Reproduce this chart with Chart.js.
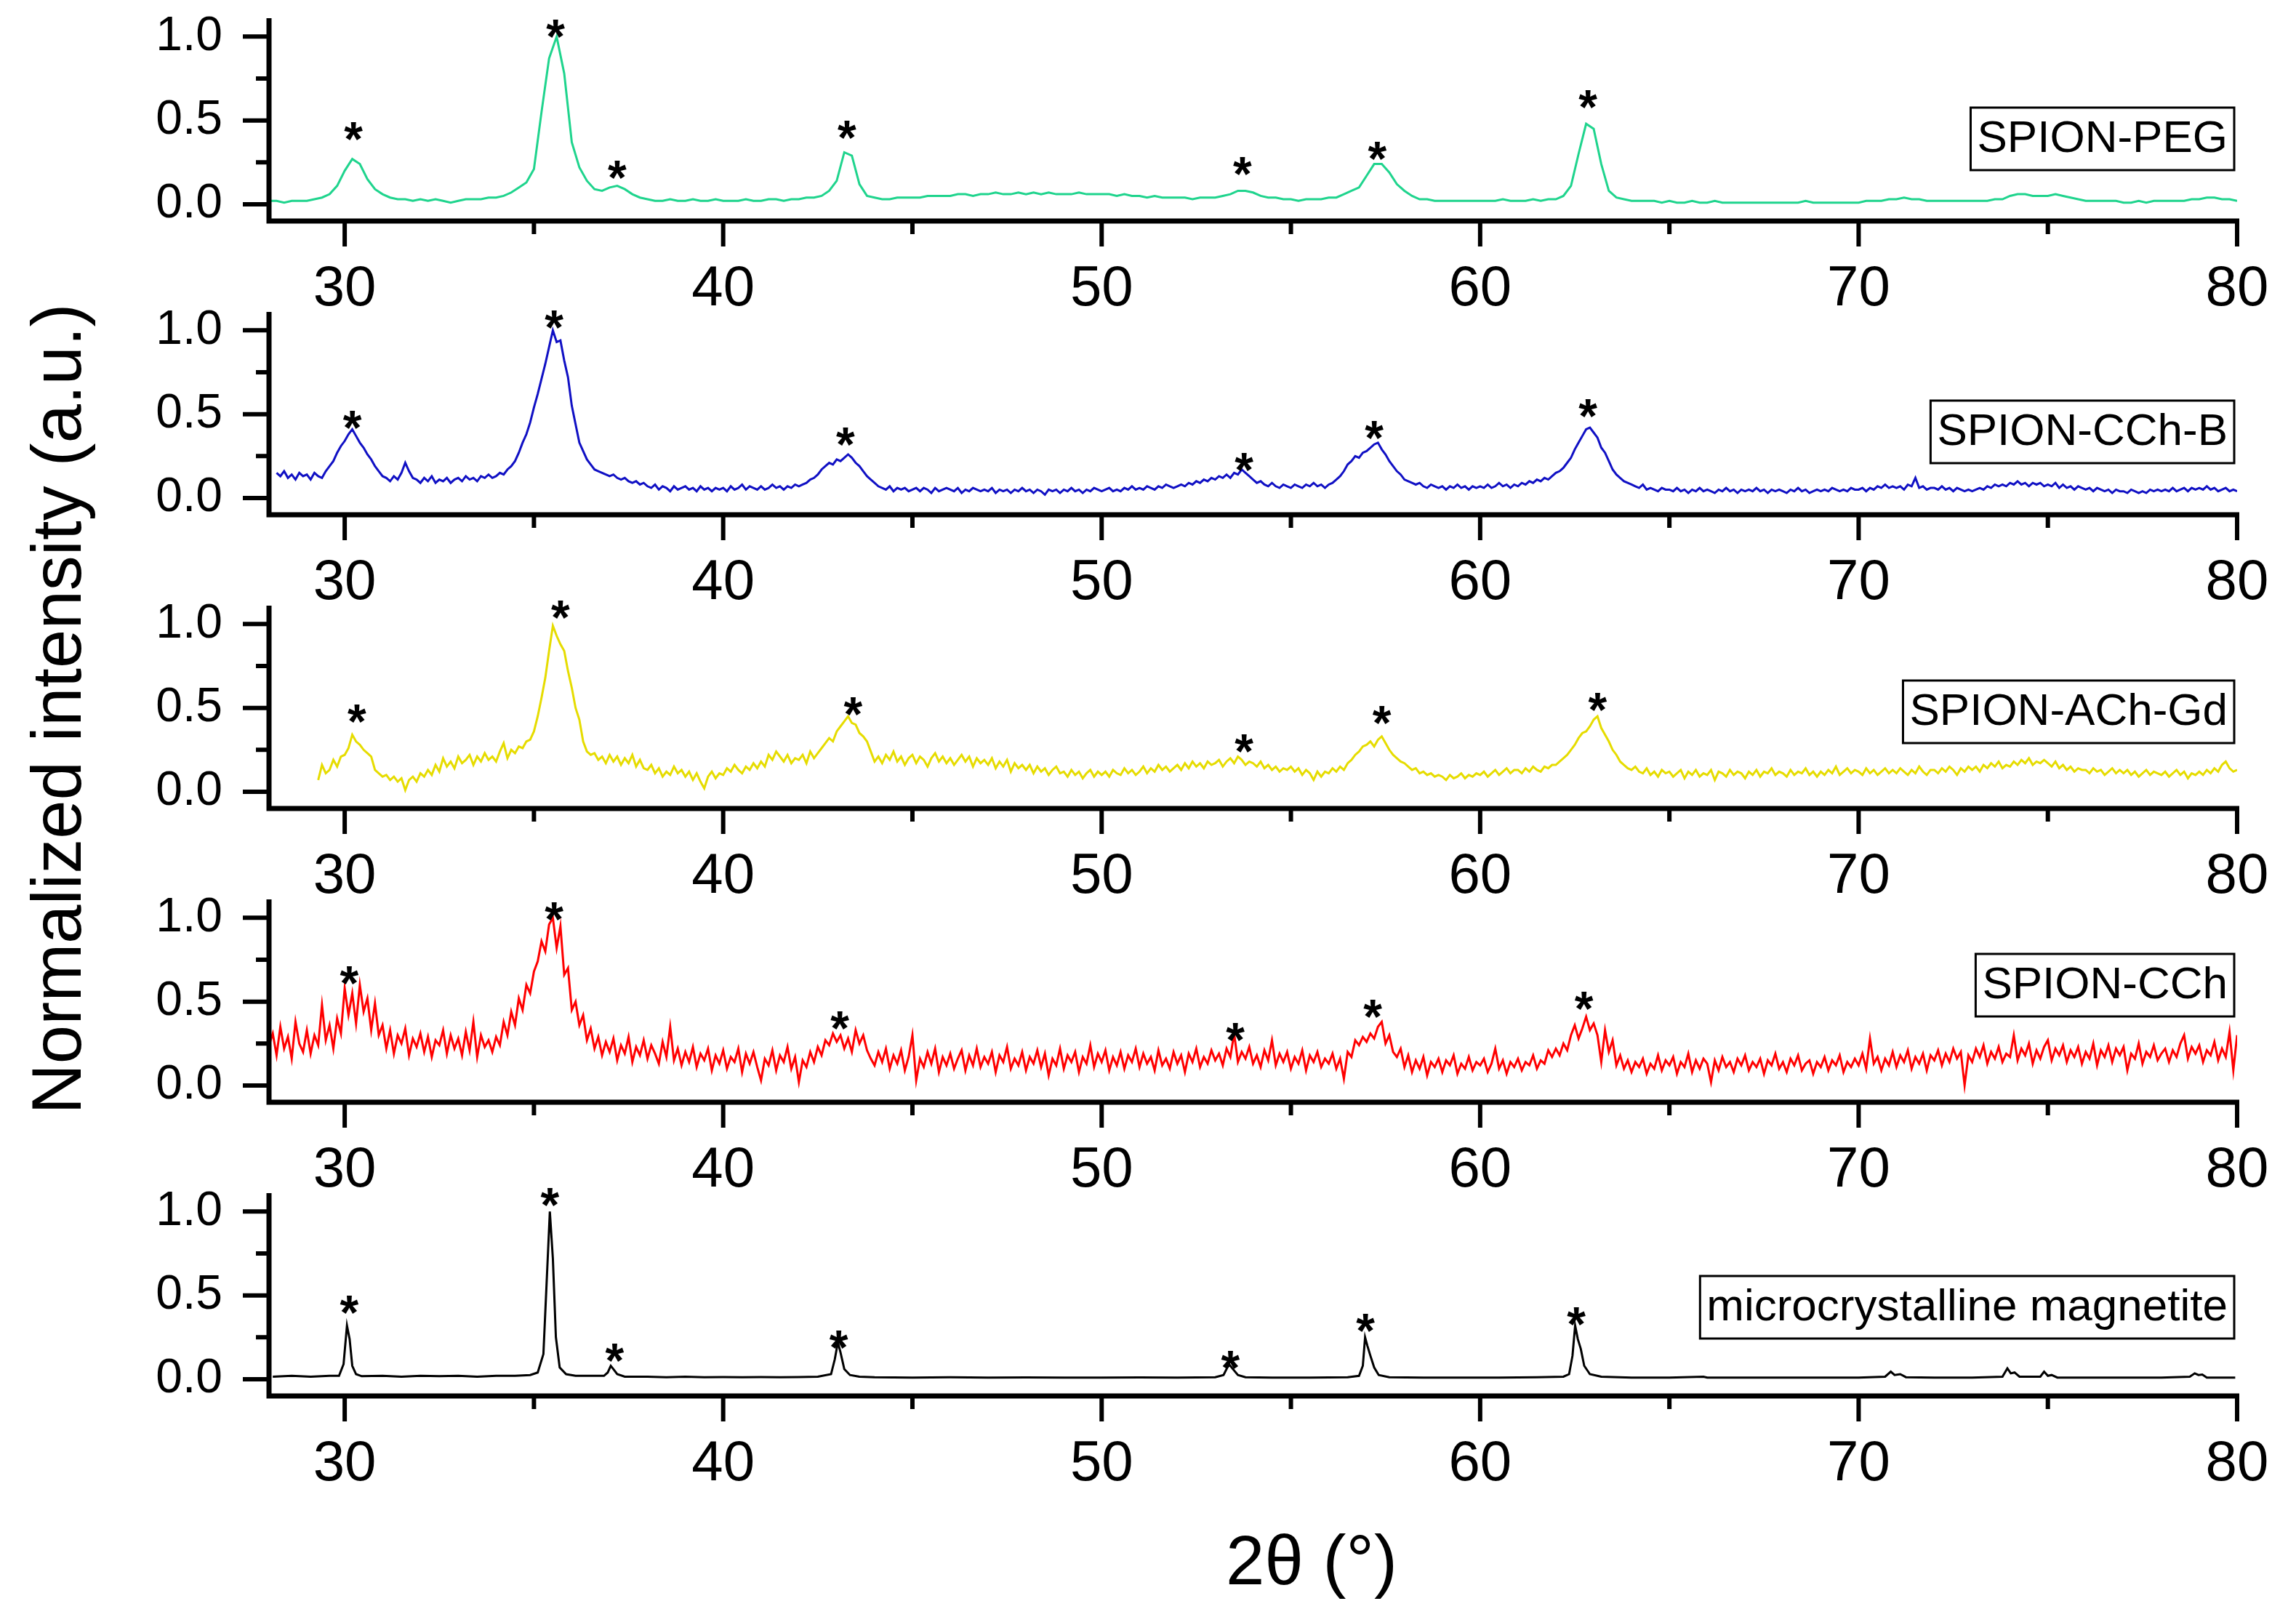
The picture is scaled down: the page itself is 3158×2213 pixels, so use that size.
<!DOCTYPE html>
<html>
<head>
<meta charset="utf-8">
<script src="https://cdn.jsdelivr.net/npm/chart.js@4.4.0/dist/chart.umd.min.js"></script>
<style>
body{margin:0;background:#fff;width:3158px;height:2213px;position:relative;overflow:hidden;font-family:"Liberation Sans",Arial,sans-serif;color:#000}
canvas{position:absolute;left:0}
#ytitle{position:absolute;left:78px;top:975px;transform:translate(-50%,-50%) rotate(-90deg);font-size:96px;white-space:nowrap}
#xtitle{position:absolute;left:1804px;top:2146px;transform:translate(-50%,-50%);font-size:96px;white-space:nowrap}
</style>
</head>
<body>
<div id="ytitle">Normalized intensity (a.u.)</div>
<div id="xtitle">2θ (°)</div>
<script>
// 2theta grid (0.2 deg) for the smooth PEG scan
var angles = [
28,28.2,28.4,28.6,28.8, 29,29.2,29.4,29.6,29.8, 30,30.2,30.4,30.6,30.8, 31,31.2,31.4,31.6,31.8,
32,32.2,32.4,32.6,32.8, 33,33.2,33.4,33.6,33.8, 34,34.2,34.4,34.6,34.8, 35,35.2,35.4,35.6,35.8,
36,36.2,36.4,36.6,36.8, 37,37.2,37.4,37.6,37.8, 38,38.2,38.4,38.6,38.8, 39,39.2,39.4,39.6,39.8,
40,40.2,40.4,40.6,40.8, 41,41.2,41.4,41.6,41.8, 42,42.2,42.4,42.6,42.8, 43,43.2,43.4,43.6,43.8,
44,44.2,44.4,44.6,44.8, 45,45.2,45.4,45.6,45.8, 46,46.2,46.4,46.6,46.8, 47,47.2,47.4,47.6,47.8,
48,48.2,48.4,48.6,48.8, 49,49.2,49.4,49.6,49.8, 50,50.2,50.4,50.6,50.8, 51,51.2,51.4,51.6,51.8,
52,52.2,52.4,52.6,52.8, 53,53.2,53.4,53.6,53.8, 54,54.2,54.4,54.6,54.8, 55,55.2,55.4,55.6,55.8,
56,56.2,56.4,56.6,56.8, 57,57.2,57.4,57.6,57.8, 58,58.2,58.4,58.6,58.8, 59,59.2,59.4,59.6,59.8,
60,60.2,60.4,60.6,60.8, 61,61.2,61.4,61.6,61.8, 62,62.2,62.4,62.6,62.8, 63,63.2,63.4,63.6,63.8,
64,64.2,64.4,64.6,64.8, 65,65.2,65.4,65.6,65.8, 66,66.2,66.4,66.6,66.8, 67,67.2,67.4,67.6,67.8,
68,68.2,68.4,68.6,68.8, 69,69.2,69.4,69.6,69.8, 70,70.2,70.4,70.6,70.8, 71,71.2,71.4,71.6,71.8,
72,72.2,72.4,72.6,72.8, 73,73.2,73.4,73.6,73.8, 74,74.2,74.4,74.6,74.8, 75,75.2,75.4,75.6,75.8,
76,76.2,76.4,76.6,76.8, 77,77.2,77.4,77.6,77.8, 78,78.2,78.4,78.6,78.8, 79,79.2,79.4,79.6,79.8,
80];

// 2theta grid (0.1 deg) for the noisy scans
var fineAngles = [
28,28.1,28.2,28.3,28.4,28.5,28.6,28.7,28.8,28.9, 29,29.1,29.2,29.3,29.4,29.5,29.6,29.7,29.8,29.9,
30,30.1,30.2,30.3,30.4,30.5,30.6,30.7,30.8,30.9, 31,31.1,31.2,31.3,31.4,31.5,31.6,31.7,31.8,31.9,
32,32.1,32.2,32.3,32.4,32.5,32.6,32.7,32.8,32.9, 33,33.1,33.2,33.3,33.4,33.5,33.6,33.7,33.8,33.9,
34,34.1,34.2,34.3,34.4,34.5,34.6,34.7,34.8,34.9, 35,35.1,35.2,35.3,35.4,35.5,35.6,35.7,35.8,35.9,
36,36.1,36.2,36.3,36.4,36.5,36.6,36.7,36.8,36.9, 37,37.1,37.2,37.3,37.4,37.5,37.6,37.7,37.8,37.9,
38,38.1,38.2,38.3,38.4,38.5,38.6,38.7,38.8,38.9, 39,39.1,39.2,39.3,39.4,39.5,39.6,39.7,39.8,39.9,
40,40.1,40.2,40.3,40.4,40.5,40.6,40.7,40.8,40.9, 41,41.1,41.2,41.3,41.4,41.5,41.6,41.7,41.8,41.9,
42,42.1,42.2,42.3,42.4,42.5,42.6,42.7,42.8,42.9, 43,43.1,43.2,43.3,43.4,43.5,43.6,43.7,43.8,43.9,
44,44.1,44.2,44.3,44.4,44.5,44.6,44.7,44.8,44.9, 45,45.1,45.2,45.3,45.4,45.5,45.6,45.7,45.8,45.9,
46,46.1,46.2,46.3,46.4,46.5,46.6,46.7,46.8,46.9, 47,47.1,47.2,47.3,47.4,47.5,47.6,47.7,47.8,47.9,
48,48.1,48.2,48.3,48.4,48.5,48.6,48.7,48.8,48.9, 49,49.1,49.2,49.3,49.4,49.5,49.6,49.7,49.8,49.9,
50,50.1,50.2,50.3,50.4,50.5,50.6,50.7,50.8,50.9, 51,51.1,51.2,51.3,51.4,51.5,51.6,51.7,51.8,51.9,
52,52.1,52.2,52.3,52.4,52.5,52.6,52.7,52.8,52.9, 53,53.1,53.2,53.3,53.4,53.5,53.6,53.7,53.8,53.9,
54,54.1,54.2,54.3,54.4,54.5,54.6,54.7,54.8,54.9, 55,55.1,55.2,55.3,55.4,55.5,55.6,55.7,55.8,55.9,
56,56.1,56.2,56.3,56.4,56.5,56.6,56.7,56.8,56.9, 57,57.1,57.2,57.3,57.4,57.5,57.6,57.7,57.8,57.9,
58,58.1,58.2,58.3,58.4,58.5,58.6,58.7,58.8,58.9, 59,59.1,59.2,59.3,59.4,59.5,59.6,59.7,59.8,59.9,
60,60.1,60.2,60.3,60.4,60.5,60.6,60.7,60.8,60.9, 61,61.1,61.2,61.3,61.4,61.5,61.6,61.7,61.8,61.9,
62,62.1,62.2,62.3,62.4,62.5,62.6,62.7,62.8,62.9, 63,63.1,63.2,63.3,63.4,63.5,63.6,63.7,63.8,63.9,
64,64.1,64.2,64.3,64.4,64.5,64.6,64.7,64.8,64.9, 65,65.1,65.2,65.3,65.4,65.5,65.6,65.7,65.8,65.9,
66,66.1,66.2,66.3,66.4,66.5,66.6,66.7,66.8,66.9, 67,67.1,67.2,67.3,67.4,67.5,67.6,67.7,67.8,67.9,
68,68.1,68.2,68.3,68.4,68.5,68.6,68.7,68.8,68.9, 69,69.1,69.2,69.3,69.4,69.5,69.6,69.7,69.8,69.9,
70,70.1,70.2,70.3,70.4,70.5,70.6,70.7,70.8,70.9, 71,71.1,71.2,71.3,71.4,71.5,71.6,71.7,71.8,71.9,
72,72.1,72.2,72.3,72.4,72.5,72.6,72.7,72.8,72.9, 73,73.1,73.2,73.3,73.4,73.5,73.6,73.7,73.8,73.9,
74,74.1,74.2,74.3,74.4,74.5,74.6,74.7,74.8,74.9, 75,75.1,75.2,75.3,75.4,75.5,75.6,75.7,75.8,75.9,
76,76.1,76.2,76.3,76.4,76.5,76.6,76.7,76.8,76.9, 77,77.1,77.2,77.3,77.4,77.5,77.6,77.7,77.8,77.9,
78,78.1,78.2,78.3,78.4,78.5,78.6,78.7,78.8,78.9, 79,79.1,79.2,79.3,79.4,79.5,79.6,79.7,79.8,79.9,
80];

var pegIntensity = [
0.02,0.02,0.01,0.02,0.02, 0.02,0.03,0.04,0.06,0.11, 0.20,0.27,0.24,0.15,0.09, 0.06,0.04,0.03,0.03,0.02,
0.03,0.02,0.03,0.02,0.01, 0.02,0.03,0.03,0.03,0.04, 0.04,0.05,0.07,0.10,0.13, 0.21,0.55,0.87,1.00,0.78,
0.37,0.22,0.14,0.09,0.08, 0.10,0.11,0.09,0.06,0.04, 0.03,0.02,0.02,0.03,0.02, 0.02,0.03,0.02,0.02,0.03,
0.02,0.02,0.02,0.03,0.02, 0.02,0.03,0.03,0.02,0.03, 0.03,0.04,0.04,0.05,0.08, 0.14,0.31,0.29,0.12,0.05,
0.04,0.03,0.03,0.04,0.04, 0.04,0.04,0.05,0.05,0.05, 0.05,0.06,0.06,0.05,0.06, 0.06,0.07,0.06,0.06,0.07,
0.06,0.07,0.06,0.07,0.06, 0.06,0.06,0.07,0.06,0.06, 0.06,0.06,0.05,0.06,0.05, 0.05,0.04,0.05,0.04,0.04,
0.04,0.04,0.03,0.04,0.04, 0.04,0.05,0.06,0.08,0.08, 0.07,0.05,0.04,0.04,0.03, 0.03,0.02,0.03,0.03,0.03,
0.04,0.04,0.06,0.08,0.10, 0.17,0.24,0.24,0.19,0.12, 0.08,0.05,0.03,0.03,0.02, 0.02,0.02,0.02,0.02,0.02,
0.02,0.02,0.02,0.03,0.02, 0.02,0.02,0.03,0.02,0.03, 0.03,0.05,0.11,0.30,0.48, 0.45,0.24,0.08,0.04,0.03,
0.02,0.02,0.02,0.02,0.01, 0.02,0.01,0.01,0.02,0.01, 0.01,0.02,0.01,0.01,0.01, 0.01,0.01,0.01,0.01,0.01,
0.01,0.01,0.01,0.02,0.01, 0.01,0.01,0.01,0.01,0.01, 0.01,0.02,0.02,0.02,0.03, 0.03,0.04,0.03,0.03,0.02,
0.02,0.02,0.02,0.02,0.02, 0.02,0.02,0.02,0.03,0.03, 0.05,0.06,0.06,0.05,0.05, 0.05,0.06,0.05,0.04,0.03,
0.02,0.02,0.02,0.02,0.02, 0.01,0.01,0.02,0.01,0.02, 0.02,0.02,0.02,0.02,0.03, 0.03,0.04,0.04,0.03,0.03,
0.02];

var cchbIntensity = [
null,null,0.15,0.13,0.16,0.12,0.14,0.11,0.15,0.13, 0.14,0.11,0.15,0.13,0.12,0.16,0.19,0.22,0.27,0.31,
0.34,0.38,0.41,0.37,0.33,0.30,0.26,0.23,0.19,0.16, 0.13,0.12,0.10,0.13,0.11,0.15,0.21,0.16,0.12,0.11,
0.09,0.12,0.10,0.13,0.09,0.11,0.10,0.12,0.09,0.11, 0.12,0.10,0.13,0.11,0.12,0.10,0.13,0.12,0.14,0.12,
0.13,0.15,0.14,0.17,0.19,0.22,0.27,0.33,0.38,0.45, 0.54,0.62,0.71,0.80,0.90,1.00,0.93,0.94,0.82,0.72,
0.55,0.44,0.33,0.28,0.23,0.20,0.17,0.16,0.15,0.14, 0.13,0.14,0.12,0.11,0.12,0.10,0.09,0.10,0.08,0.09,
0.07,0.06,0.08,0.05,0.07,0.06,0.04,0.07,0.05,0.06, 0.07,0.05,0.06,0.04,0.07,0.05,0.06,0.04,0.06,0.05,
0.06,0.04,0.07,0.05,0.06,0.08,0.05,0.07,0.06,0.05, 0.07,0.05,0.06,0.08,0.06,0.07,0.05,0.07,0.06,0.08,
0.07,0.08,0.09,0.11,0.12,0.14,0.17,0.19,0.21,0.20, 0.23,0.22,0.24,0.26,0.24,0.21,0.19,0.16,0.13,0.11,
0.09,0.07,0.06,0.05,0.07,0.04,0.06,0.05,0.06,0.04, 0.05,0.06,0.04,0.06,0.05,0.03,0.06,0.04,0.05,0.06,
0.05,0.04,0.06,0.03,0.05,0.04,0.06,0.05,0.04,0.05, 0.04,0.06,0.03,0.05,0.04,0.05,0.03,0.05,0.04,0.06,
0.04,0.05,0.03,0.05,0.04,0.02,0.05,0.04,0.05,0.03, 0.05,0.04,0.06,0.04,0.05,0.03,0.05,0.04,0.06,0.05,
0.04,0.05,0.06,0.04,0.05,0.04,0.06,0.05,0.07,0.05, 0.06,0.05,0.07,0.06,0.05,0.07,0.06,0.08,0.07,0.06,
0.07,0.08,0.07,0.09,0.08,0.10,0.09,0.11,0.10,0.12, 0.11,0.13,0.12,0.14,0.12,0.15,0.14,0.17,0.15,0.13,
0.11,0.09,0.10,0.08,0.07,0.09,0.07,0.06,0.08,0.07, 0.06,0.08,0.07,0.06,0.08,0.07,0.09,0.07,0.08,0.06,
0.08,0.09,0.11,0.13,0.16,0.20,0.22,0.25,0.24,0.27, 0.28,0.30,0.32,0.33,0.29,0.26,0.22,0.19,0.16,0.14,
0.11,0.10,0.09,0.08,0.09,0.07,0.06,0.08,0.07,0.06, 0.07,0.05,0.07,0.06,0.08,0.06,0.07,0.05,0.07,0.06,
0.07,0.06,0.08,0.06,0.07,0.09,0.07,0.08,0.06,0.08, 0.07,0.09,0.08,0.10,0.09,0.11,0.10,0.12,0.11,0.13,
0.15,0.16,0.18,0.21,0.24,0.29,0.33,0.37,0.41,0.42, 0.39,0.36,0.30,0.27,0.22,0.17,0.14,0.12,0.10,0.09,
0.08,0.07,0.06,0.08,0.05,0.06,0.05,0.04,0.06,0.05, 0.05,0.04,0.06,0.04,0.05,0.03,0.05,0.04,0.06,0.04,
0.05,0.04,0.03,0.05,0.04,0.06,0.04,0.05,0.03,0.05, 0.04,0.05,0.04,0.06,0.04,0.05,0.03,0.05,0.04,0.05,
0.04,0.03,0.05,0.04,0.06,0.04,0.05,0.03,0.04,0.05, 0.04,0.05,0.04,0.06,0.05,0.04,0.05,0.04,0.06,0.05,
0.05,0.06,0.04,0.06,0.05,0.07,0.06,0.08,0.06,0.07, 0.06,0.07,0.05,0.08,0.07,0.12,0.06,0.07,0.05,0.06,
0.06,0.05,0.07,0.05,0.06,0.04,0.06,0.05,0.04,0.05, 0.04,0.05,0.06,0.05,0.07,0.06,0.08,0.07,0.08,0.07,
0.09,0.08,0.10,0.08,0.09,0.07,0.09,0.08,0.09,0.07, 0.08,0.07,0.09,0.06,0.08,0.06,0.07,0.05,0.07,0.06,
0.05,0.06,0.04,0.06,0.05,0.04,0.05,0.03,0.05,0.04, 0.04,0.03,0.05,0.04,0.03,0.04,0.03,0.05,0.04,0.05,
0.04,0.05,0.04,0.06,0.04,0.05,0.06,0.04,0.06,0.05, 0.06,0.05,0.07,0.05,0.06,0.04,0.05,0.06,0.04,0.05,
0.04];

var achgdIntensity = [
null,null,null,null,null,null,null,null,null,null, null,null,null,0.07,0.16,0.11,0.13,0.19,0.15,0.21,
0.22,0.26,0.34,0.30,0.28,0.25,0.23,0.21,0.13,0.11, 0.09,0.10,0.07,0.09,0.06,0.08,0.01,0.07,0.09,0.06,
0.11,0.09,0.13,0.10,0.16,0.12,0.20,0.15,0.18,0.14, 0.21,0.17,0.19,0.22,0.16,0.21,0.18,0.23,0.19,0.21,
0.18,0.24,0.29,0.20,0.25,0.23,0.27,0.26,0.30,0.31, 0.36,0.45,0.56,0.68,0.84,0.99,0.93,0.88,0.84,0.72,
0.62,0.50,0.43,0.30,0.24,0.22,0.23,0.19,0.21,0.17, 0.22,0.18,0.21,0.16,0.20,0.17,0.22,0.15,0.19,0.14,
0.13,0.16,0.11,0.14,0.09,0.12,0.10,0.15,0.11,0.13, 0.09,0.12,0.07,0.11,0.06,0.02,0.09,0.12,0.08,0.11,
0.10,0.14,0.12,0.16,0.13,0.11,0.15,0.13,0.17,0.14, 0.18,0.15,0.22,0.19,0.24,0.21,0.18,0.22,0.17,0.20,
0.19,0.22,0.17,0.24,0.20,0.23,0.26,0.29,0.32,0.30, 0.36,0.39,0.42,0.45,0.41,0.40,0.35,0.33,0.30,0.24,
0.18,0.21,0.17,0.22,0.19,0.24,0.18,0.21,0.16,0.20, 0.22,0.17,0.21,0.19,0.15,0.20,0.23,0.18,0.21,0.17,
0.20,0.16,0.19,0.22,0.18,0.21,0.15,0.20,0.17,0.19, 0.16,0.20,0.14,0.18,0.15,0.19,0.12,0.17,0.14,0.16,
0.13,0.16,0.11,0.15,0.12,0.14,0.10,0.13,0.15,0.11, 0.12,0.09,0.13,0.10,0.12,0.08,0.11,0.13,0.09,0.12,
0.10,0.12,0.09,0.13,0.11,0.10,0.14,0.11,0.13,0.10, 0.12,0.15,0.11,0.14,0.12,0.16,0.13,0.15,0.12,0.14,
0.16,0.13,0.17,0.14,0.18,0.15,0.17,0.14,0.18,0.16, 0.17,0.19,0.15,0.18,0.20,0.17,0.21,0.19,0.16,0.18,
0.17,0.15,0.18,0.14,0.16,0.13,0.15,0.12,0.14,0.13, 0.15,0.12,0.14,0.10,0.13,0.11,0.07,0.12,0.09,0.12,
0.11,0.14,0.12,0.15,0.13,0.17,0.19,0.22,0.24,0.27, 0.28,0.30,0.27,0.31,0.33,0.29,0.25,0.22,0.20,0.18,
0.17,0.15,0.13,0.14,0.11,0.12,0.10,0.11,0.09,0.10, 0.09,0.07,0.10,0.08,0.09,0.11,0.08,0.10,0.09,0.11,
0.10,0.12,0.09,0.11,0.13,0.10,0.12,0.14,0.11,0.13, 0.13,0.11,0.14,0.12,0.15,0.13,0.12,0.15,0.14,0.16,
0.16,0.18,0.20,0.22,0.25,0.28,0.32,0.35,0.36,0.39, 0.43,0.45,0.38,0.34,0.30,0.25,0.22,0.18,0.16,0.14,
0.13,0.15,0.12,0.11,0.14,0.10,0.12,0.09,0.13,0.11, 0.12,0.09,0.11,0.13,0.08,0.12,0.10,0.13,0.09,0.11,
0.10,0.13,0.07,0.12,0.11,0.09,0.13,0.10,0.12,0.11, 0.08,0.12,0.10,0.13,0.09,0.12,0.11,0.14,0.10,0.12,
0.11,0.09,0.13,0.10,0.12,0.11,0.14,0.10,0.12,0.09, 0.12,0.10,0.13,0.11,0.15,0.10,0.12,0.14,0.11,0.13,
0.12,0.10,0.14,0.11,0.13,0.10,0.12,0.14,0.11,0.13, 0.11,0.14,0.12,0.10,0.13,0.11,0.15,0.12,0.10,0.13,
0.13,0.11,0.14,0.12,0.15,0.13,0.10,0.14,0.12,0.15, 0.13,0.15,0.12,0.16,0.14,0.17,0.15,0.18,0.14,0.16,
0.15,0.18,0.16,0.19,0.17,0.20,0.16,0.18,0.17,0.19, 0.17,0.15,0.18,0.14,0.16,0.13,0.15,0.12,0.14,0.13,
0.13,0.11,0.14,0.12,0.13,0.10,0.12,0.14,0.11,0.13, 0.11,0.13,0.10,0.12,0.09,0.11,0.13,0.10,0.12,0.11,
0.10,0.12,0.09,0.11,0.13,0.10,0.12,0.08,0.11,0.10, 0.12,0.10,0.13,0.11,0.14,0.12,0.16,0.18,0.14,0.12,
0.13];

var cchIntensity = [
0.24,0.31,0.18,0.35,0.22,0.29,0.16,0.38,0.25,0.20, 0.33,0.19,0.30,0.24,0.48,0.27,0.36,0.22,0.40,0.31,
0.58,0.42,0.55,0.37,0.60,0.44,0.52,0.33,0.49,0.30, 0.36,0.22,0.33,0.19,0.30,0.25,0.34,0.18,0.28,0.23,
0.31,0.20,0.29,0.17,0.27,0.24,0.33,0.19,0.30,0.22, 0.28,0.18,0.32,0.21,0.38,0.17,0.30,0.23,0.27,0.20,
0.29,0.24,0.38,0.30,0.44,0.36,0.52,0.45,0.60,0.55, 0.68,0.74,0.86,0.80,0.96,1.00,0.82,0.95,0.66,0.70,
0.45,0.50,0.36,0.42,0.27,0.34,0.22,0.29,0.18,0.26, 0.20,0.28,0.15,0.24,0.19,0.29,0.14,0.23,0.18,0.27,
0.16,0.24,0.19,0.13,0.26,0.17,0.35,0.15,0.22,0.12, 0.20,0.14,0.23,0.11,0.19,0.15,0.22,0.09,0.18,0.13,
0.21,0.10,0.17,0.14,0.22,0.08,0.19,0.13,0.20,0.11, 0.03,0.16,0.12,0.21,0.09,0.18,0.14,0.23,0.10,0.17,
0.02,0.15,0.11,0.20,0.14,0.23,0.18,0.27,0.24,0.31, 0.26,0.30,0.22,0.28,0.20,0.33,0.25,0.30,0.21,0.16,
0.12,0.20,0.14,0.22,0.10,0.18,0.13,0.21,0.09,0.17, 0.30,0.03,0.16,0.11,0.20,0.13,0.22,0.08,0.17,0.12,
0.19,0.10,0.16,0.21,0.09,0.18,0.12,0.22,0.11,0.17, 0.13,0.20,0.08,0.18,0.14,0.23,0.10,0.16,0.12,0.20,
0.09,0.17,0.13,0.21,0.11,0.19,0.06,0.16,0.12,0.22, 0.10,0.18,0.14,0.20,0.08,0.17,0.13,0.24,0.11,0.19,
0.14,0.21,0.09,0.17,0.12,0.20,0.10,0.18,0.14,0.22, 0.11,0.19,0.13,0.17,0.09,0.21,0.12,0.16,0.10,0.20,
0.13,0.18,0.08,0.19,0.14,0.22,0.11,0.17,0.13,0.21, 0.15,0.19,0.12,0.22,0.17,0.31,0.14,0.20,0.16,0.23,
0.13,0.18,0.11,0.21,0.15,0.27,0.12,0.19,0.14,0.20, 0.10,0.17,0.13,0.21,0.09,0.18,0.14,0.20,0.11,0.16,
0.13,0.19,0.10,0.16,0.04,0.20,0.17,0.27,0.24,0.29, 0.26,0.31,0.28,0.35,0.38,0.25,0.30,0.20,0.17,0.22,
0.11,0.18,0.08,0.15,0.10,0.17,0.06,0.14,0.11,0.16, 0.08,0.15,0.12,0.18,0.07,0.13,0.10,0.17,0.09,0.14,
0.12,0.16,0.08,0.13,0.22,0.10,0.15,0.07,0.14,0.11, 0.16,0.09,0.14,0.12,0.18,0.10,0.15,0.13,0.21,0.17,
0.22,0.18,0.25,0.21,0.30,0.36,0.28,0.34,0.41,0.33, 0.37,0.30,0.14,0.33,0.20,0.27,0.12,0.18,0.10,0.15,
0.08,0.14,0.11,0.16,0.07,0.13,0.10,0.18,0.09,0.15, 0.12,0.17,0.07,0.14,0.11,0.19,0.08,0.15,0.10,0.16,
0.13,0.02,0.15,0.09,0.17,0.11,0.14,0.08,0.16,0.12, 0.18,0.09,0.14,0.11,0.16,0.07,0.15,0.12,0.19,0.10,
0.14,0.08,0.16,0.12,0.18,0.09,0.13,0.15,0.07,0.14, 0.11,0.17,0.09,0.15,0.12,0.18,0.08,0.14,0.11,0.16,
0.12,0.19,0.10,0.28,0.13,0.17,0.09,0.16,0.12,0.20, 0.11,0.18,0.14,0.21,0.10,0.17,0.13,0.19,0.09,0.18,
0.15,0.21,0.12,0.19,0.14,0.22,0.16,0.20,0.00,0.18, 0.14,0.22,0.17,0.24,0.13,0.20,0.16,0.23,0.14,0.19,
0.17,0.30,0.15,0.22,0.18,0.25,0.13,0.21,0.16,0.23, 0.27,0.15,0.22,0.18,0.24,0.14,0.21,0.17,0.23,0.13,
0.20,0.16,0.25,0.12,0.21,0.17,0.24,0.14,0.22,0.18, 0.23,0.09,0.19,0.16,0.25,0.13,0.20,0.17,0.24,0.15,
0.19,0.22,0.14,0.21,0.17,0.25,0.30,0.16,0.23,0.19, 0.24,0.14,0.21,0.18,0.26,0.15,0.22,0.17,0.32,0.09,
0.30];

// reference magnetite scan: sharp peaks, so read as [2theta, intensity] pairs
var magnetitePoints = [
[28.1,0.015],[28.6,0.02],[29.1,0.015],[29.6,0.02],[29.85,0.02],[29.97,0.09],[30.06,0.32],[30.13,0.24],[30.2,0.08],[30.3,0.03],
[30.45,0.018],[31,0.02],[31.5,0.015],[32,0.02],[32.5,0.018],[33,0.02],[33.5,0.015],[34,0.02],[34.5,0.02],[34.9,0.025],
[35.1,0.04],[35.25,0.15],[35.33,0.55],[35.42,1.0],[35.5,0.72],[35.58,0.25],[35.68,0.07],[35.85,0.03],[36.1,0.02],[36.5,0.02],
[36.85,0.02],[36.95,0.04],[37.03,0.08],[37.1,0.06],[37.2,0.03],[37.4,0.015],[38,0.015],[38.5,0.012],[39,0.015],[39.5,0.012],
[40,0.013],[40.5,0.012],[41,0.013],[41.5,0.012],[42,0.013],[42.5,0.015],[42.85,0.03],[42.95,0.12],[43.03,0.22],[43.1,0.16],
[43.2,0.06],[43.35,0.025],[43.6,0.015],[44,0.012],[45,0.01],[46,0.012],[47,0.01],[48,0.011],[49,0.01],[50,0.01],
[51,0.011],[52,0.01],[53,0.012],[53.22,0.025],[53.32,0.07],[53.38,0.085],[53.47,0.06],[53.6,0.025],[53.8,0.012],[54.5,0.01],
[55.5,0.01],[56.5,0.012],[56.8,0.02],[56.9,0.08],[56.96,0.25],[57.02,0.2],[57.1,0.14],[57.2,0.07],[57.32,0.025],[57.6,0.012],
[58.5,0.01],[59.5,0.01],[60.5,0.01],[61.5,0.012],[62.2,0.015],[62.35,0.03],[62.44,0.14],[62.51,0.32],[62.58,0.24],[62.66,0.18],
[62.75,0.08],[62.9,0.03],[63.2,0.015],[64,0.01],[65,0.01],[65.9,0.015],[66,0.01],[67,0.01],[68,0.01],[69,0.01],
[70,0.01],[70.7,0.015],[70.85,0.045],[70.95,0.025],[71.1,0.03],[71.25,0.012],[72,0.01],[73,0.01],[73.8,0.015],[73.93,0.065],
[74.02,0.035],[74.12,0.04],[74.25,0.015],[74.8,0.015],[74.9,0.045],[75.0,0.02],[75.1,0.025],[75.25,0.01],[76,0.01],[77,0.01],
[78,0.01],[78.75,0.015],[78.88,0.035],[78.98,0.025],[79.08,0.028],[79.2,0.01],[79.95,0.01]];

var sampleNames = ["SPION-PEG", "SPION-CCh-B", "SPION-ACh-Gd", "SPION-CCh", "microcrystalline magnetite"];
var sampleColors = ["#1fd48d", "#1010c4", "#e6dc00", "#ff0000", "#000000"];

// asterisk markers (magnetite reflections) per panel
var starAngles = [
  [30.23, 35.57, 37.2, 43.27, 53.72, 57.28, 62.85],
  [30.2, 35.53, 43.23, 53.76, 57.2, 62.85],
  [30.32, 35.7, 43.43, 53.76, 57.4, 63.1],
  [30.12, 35.53, 43.08, 53.53, 57.16, 62.74],
  [30.12, 35.42, 37.13, 43.05, 53.4, 56.97, 62.54]
];
var starHeights = [
  [0.46, 1.07, 0.23, 0.47, 0.25, 0.34, 0.65],
  [0.49, 1.09, 0.39, 0.24, 0.43, 0.56],
  [0.49, 1.11, 0.535, 0.31, 0.48, 0.56],
  [0.68, 1.06, 0.41, 0.34, 0.48, 0.53],
  [0.47, 1.11, 0.18, 0.26, 0.14, 0.36, 0.40]
];

var xMajorTicks = [30, 40, 50, 60, 70, 80];
var xMinorTicks = [35, 45, 55, 65, 75];
var yMajorTicks = [0, 0.5, 1.0];
var yMinorTicks = [0.25, 0.75];

var labelBoxTop = [123, 122, 103, 75, 114];

var FONT = '"Liberation Sans", Arial, sans-serif';

function pairUp(xs, values) {
  var pts = [];
  for (var i = 0; i < xs.length; i++) pts.push({x: xs[i], y: values[i]});
  return pts;
}

var seriesPoints = [
  pairUp(angles, pegIntensity),
  pairUp(fineAngles, cchbIntensity),
  pairUp(fineAngles, achgdIntensity),
  pairUp(fineAngles, cchIntensity),
  magnetitePoints.map(function(p){ return {x: p[0], y: p[1]}; })
];

function makePanel(idx) {
  var cv = document.createElement("canvas");
  cv.width = 3158; cv.height = 460;
  cv.style.top = Math.round(404.1 * idx) + "px";
  document.body.appendChild(cv);

  var decor = {
    id: "decor" + idx,
    afterDraw: function(chart) {
      var ctx = chart.ctx, a = chart.chartArea;
      var xs = chart.scales.x, ys = chart.scales.y;
      ctx.save();
      ctx.strokeStyle = "#000";
      ctx.lineCap = "butt";
      ctx.lineWidth = 7;
      ctx.beginPath();
      ctx.moveTo(a.left, a.top); ctx.lineTo(a.left, a.bottom + 3.5);
      ctx.moveTo(a.left - 3.5, a.bottom); ctx.lineTo(a.right + 3, a.bottom);
      ctx.stroke();
      ctx.lineWidth = 6;
      ctx.beginPath();
      xMajorTicks.forEach(function(v){ var p = xs.getPixelForValue(v); ctx.moveTo(p, a.bottom); ctx.lineTo(p, a.bottom + 35); });
      xMinorTicks.forEach(function(v){ var p = xs.getPixelForValue(v); ctx.moveTo(p, a.bottom); ctx.lineTo(p, a.bottom + 18); });
      yMajorTicks.forEach(function(v){ var p = ys.getPixelForValue(v); ctx.moveTo(a.left, p); ctx.lineTo(a.left - 36, p); });
      yMinorTicks.forEach(function(v){ var p = ys.getPixelForValue(v); ctx.moveTo(a.left, p); ctx.lineTo(a.left - 18, p); });
      ctx.stroke();

      // asterisks
      ctx.fillStyle = "#000";
      ctx.font = "bold 66px " + FONT;
      ctx.textAlign = "center";
      ctx.textBaseline = "alphabetic";
      starAngles[idx].forEach(function(ang, k){
        var px = xs.getPixelForValue(ang), py = ys.getPixelForValue(starHeights[idx][k]);
        ctx.fillText("*", px, py + 0.59 * 66);
      });

      // sample label box
      ctx.font = "62px " + FONT;
      var tw = ctx.measureText(sampleNames[idx]).width;
      var bw = tw + 18, bh = 86;
      var bx = a.right - 4 - bw, by = a.top + labelBoxTop[idx];
      ctx.lineWidth = 3;
      ctx.strokeRect(bx, by, bw, bh);
      ctx.textAlign = "center";
      ctx.textBaseline = "middle";
      ctx.fillText(sampleNames[idx], bx + bw / 2, by + bh / 2 + 1);
      ctx.restore();
    }
  };

  return new Chart(cv.getContext("2d"), {
    type: "line",
    data: {
      datasets: [{
        label: sampleNames[idx],
        data: seriesPoints[idx],
        borderColor: sampleColors[idx],
        borderWidth: 3,
        pointRadius: 0,
        tension: 0,
        spanGaps: false
      }]
    },
    options: {
      responsive: false,
      animation: false,
      devicePixelRatio: 1,
      layout: {padding: {left: 0, right: 81, top: 25, bottom: 0}},
      plugins: {legend: {display: false}, tooltip: {enabled: false}},
      scales: {
        x: {
          type: "linear", min: 28, max: 80,
          grid: {display: false, drawTicks: false},
          border: {display: false},
          afterBuildTicks: function(s){ s.ticks = xMajorTicks.map(function(v){ return {value: v}; }); },
          ticks: {
            color: "#000", padding: 48, maxRotation: 0, autoSkip: false,
            font: {size: 78, family: FONT},
            callback: function(v){ return String(v); }
          },
          afterFit: function(s){ s.height = 156; s.paddingLeft = 0; s.paddingRight = 0; s.paddingTop = 0; s.paddingBottom = 0; }
        },
        y: {
          type: "linear", min: -0.1, max: 1.11,
          grid: {display: false, drawTicks: false},
          border: {display: false},
          afterBuildTicks: function(s){ s.ticks = yMajorTicks.map(function(v){ return {value: v}; }); },
          ticks: {
            color: "#000", padding: 64,
            font: {size: 66, family: FONT},
            callback: function(v){ return v.toFixed(1); }
          },
          afterFit: function(s){ s.width = 370; s.paddingLeft = 0; s.paddingRight = 0; s.paddingTop = 0; s.paddingBottom = 0; }
        }
      }
    },
    plugins: [decor]
  });
}

for (var i = 0; i < 5; i++) makePanel(i);
</script>
</body>
</html>
